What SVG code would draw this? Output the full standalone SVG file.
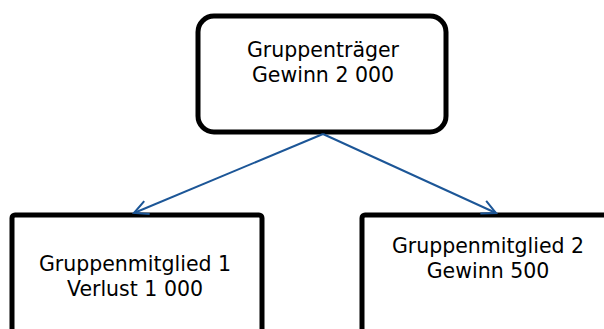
<svg xmlns="http://www.w3.org/2000/svg" width="604" height="329" viewBox="0 0 604 329">
<style>
.box{fill:#fff;stroke:#000;stroke-width:5}
.t{font-family:"DejaVu Sans",Verdana,sans-serif;font-size:20.5px;fill:#000;text-anchor:middle}
.conn{stroke:#1c5697;stroke-width:2;fill:none}
</style>
<defs>
<marker id="arr" markerWidth="20" markerHeight="20" refX="15" refY="8" orient="auto" markerUnits="userSpaceOnUse">
<path d="M1,1 L15,8 L1,15" fill="none" stroke="#1c5697" stroke-width="2"/>
</marker>
</defs>
<g id="traeger">
<rect class="box" x="198" y="16" width="248" height="116" rx="16"/>
<text class="t" x="323" y="57">Gruppenträger</text>
<text class="t" x="323" y="82">Gewinn 2 000</text>
</g>
<g id="mitglied1">
<rect class="box" x="12" y="215" width="250" height="130" rx="3"/>
<text class="t" x="135" y="271">Gruppenmitglied 1</text>
<text class="t" x="135" y="296">Verlust 1 000</text>
</g>
<g id="mitglied2">
<rect class="box" x="362" y="215" width="260" height="130" rx="3"/>
<text class="t" x="488" y="253">Gruppenmitglied 2</text>
<text class="t" x="488" y="278">Gewinn 500</text>
</g>
<g id="connectors">
<line class="conn" x1="323" y1="134" x2="134" y2="213" marker-end="url(#arr)"/>
<line class="conn" x1="323" y1="134" x2="496" y2="213" marker-end="url(#arr)"/>
</g>
</svg>
